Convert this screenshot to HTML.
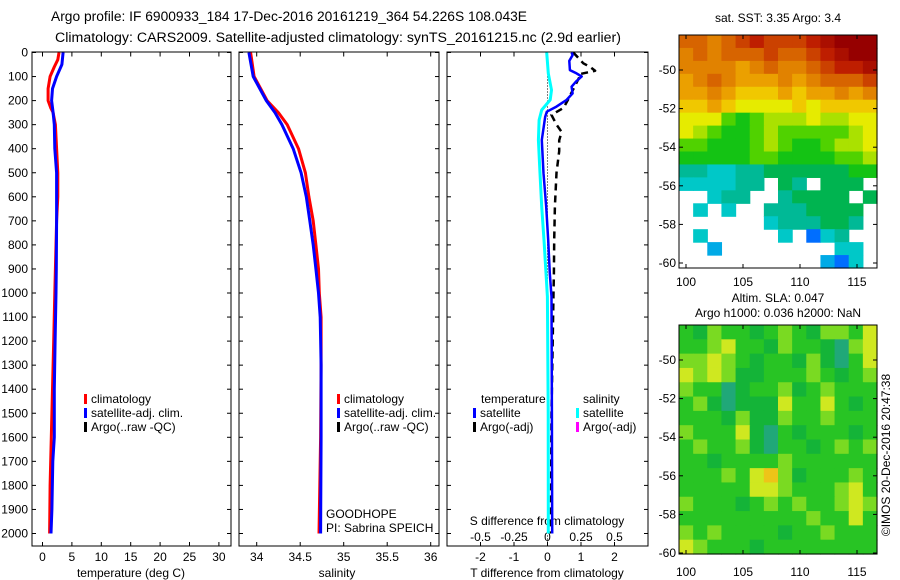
<!DOCTYPE html>
<html><head><meta charset="utf-8">
<style>
html,body{margin:0;padding:0;background:#fff;}
svg{display:block;font-family:"Liberation Sans",sans-serif;}
text{fill:#000;}
</style></head>
<body>
<svg id="fig" width="900" height="580" viewBox="0 0 900 580" xmlns="http://www.w3.org/2000/svg">
<rect width="900" height="580" fill="#fff"/>
<text x="51" y="21" font-size="13.5" textLength="476" lengthAdjust="spacingAndGlyphs">Argo profile: IF 6900933_184 17-Dec-2016 20161219_364 54.226S 108.043E</text>
<text x="55" y="42" font-size="13.5" textLength="566" lengthAdjust="spacingAndGlyphs">Climatology: CARS2009. Satellite-adjusted climatology: synTS_20161215.nc (2.9d earlier)</text>
<g id="g"></g>
</svg>
<script>
// ---- data ----
const depthTicks=[0,100,200,300,400,500,600,700,800,900,1000,1100,1200,1300,1400,1500,1600,1700,1800,1900,2000];
const tempTicks=[0,5,10,15,20,25,30];
const salTicks=[34,34.5,35,35.5,36];
const salTickLabels=["34","34.5","35","35.5","36"];
const tdTicks=[-2,-1,0,1,2];
const sdTicks=[-0.5,-0.25,0,0.25,0.5];
const sdTickLabels=["-0.5","-0.25","0","0.25","0.5"];

const tClimDepth=[0,30,60,100,150,200,230,250,300,400,500,600,700,800,1000,1200,1400,1600,1800,2000];
const tClimVal=[2.8,2.6,2.0,1.3,0.95,0.95,1.4,1.8,2.2,2.4,2.6,2.6,2.4,2.3,2.1,1.9,1.7,1.5,1.3,1.2];
const tSatDepth=[0,50,100,150,200,250,300,400,500,700,900,1000,1200,1400,1600,1700,1900,2000];
const tSatVal=[3.5,3.3,2.4,1.7,1.55,1.8,2.0,2.1,2.4,2.4,2.35,2.3,2.15,2.0,2.0,1.75,1.6,1.45];

const sDepth=[0,100,200,250,300,400,500,600,700,800,900,1000,1100,1300,1600,2000];
const sClimVal=[33.93,33.97,34.12,34.25,34.35,34.48,34.56,34.60,34.65,34.68,34.71,34.72,34.74,34.74,34.735,34.716];
const sSatVal=[33.91,33.96,34.11,34.21,34.29,34.42,34.51,34.57,34.61,34.65,34.68,34.71,34.73,34.74,34.74,34.735];

const dTDepth=[0,11,35,73,87,100,121,142,170,197,225,246,267,364,502,641,780,918,1015,1500,2000];
const dTVal=[0.72,0.75,0.65,0.67,0.87,1.02,0.85,0.72,0.75,0.57,0.27,-0.02,-0.07,-0.17,-0.12,-0.04,0.02,0.07,0.12,0.13,0.14];
const dSDepth=[0,87,156,197,239,281,364,502,641,780,918,1015,1500,2000];
const dSVal=[-0.006,0.006,0.03,0.02,-0.043,-0.063,-0.068,-0.056,-0.043,-0.026,-0.011,-0.001,0.005,0.006];
const argoDDepth=[0,45,60,76,90,100,197,230,260,300,330,365,410,500,640,780,920,1000,1500,2000];
const argoDVal=[0.77,1.07,1.27,1.42,0.96,0.96,0.61,0.48,0.12,0.27,0.42,0.35,0.35,0.27,0.22,0.2,0.19,0.18,0.12,0.1];

const mapLonTicks=[100,105,110,115];
const mapLatTicks=[-50,-52,-54,-56,-58,-60];
// SST grid, colour index 0..10, -1 = no data
const sstGrid=[
[8,8,7.5,8,8.5,9,8.5,8.5,8.5,9,9.5,10,10,10],
[7.5,8,7.5,8,8,8,8.5,8,8,8.5,9,9.5,10,10],
[7.5,7.5,7.5,7.5,7,7.5,8,7.5,7.5,8,8.5,9,9,9.5],
[7,7.5,8,7.5,7,7,7,7.5,7,7.5,8,8,8,8.5],
[7,7,7.5,7,6.5,6.5,6.5,7,6.5,7,7,7.5,7,7.5],
[6.5,6.5,7,6.5,6,6,6,6,6.5,6,6.5,6.5,6.5,6.5],
[6,6,6,5,4.5,5,5.5,5.5,5.5,6,5.5,5.5,6,6],
[6,5.5,5,4.5,4.5,5,5.5,5,5,5,5,5,5.5,6],
[5,5,4.5,4.5,4.5,5,5.5,5,4.5,4.5,5,5.5,5.5,6],
[4.5,4.5,4.5,4.5,4.5,5,5,4.5,4.5,4.5,4.5,5,5,5.5],
[3.5,3.5,3,3,3.5,3.5,4,4,4,4,4,4,4.5,4.5],
[3,3,3,3,3.5,3.5,-1,4,3.5,-1,4,4,4,-1],
[-1,-1,3,3.5,3.5,-1,-1,3.5,4,4,4,4,-1,4],
[-1,3,-1,3,-1,-1,3.5,3.5,3.5,4,4,4,4,-1],
[-1,-1,-1,-1,-1,-1,3,3.5,3.5,3.5,4,4,3.5,-1],
[-1,3,-1,-1,-1,-1,-1,3,-1,2,3,3.5,-1,-1],
[-1,-1,2.5,-1,-1,-1,-1,-1,-1,-1,-1,3,3,-1],
[-1,-1,-1,-1,-1,-1,-1,-1,-1,-1,2.5,2,3,-1]
];
// SLA grid, class 0..5
const slaGrid=[
[2,1,3,2,2,1,2,3,2,1,3,3,2,4],
[2,2,3,4,2,2,1,3,2,2,1,0,3,4],
[3,3,4,3,2,1,2,2,1,3,1,0,2,4],
[4,3,4,3,1,1,2,2,2,3,2,1,2,3],
[3,2,2,0,1,2,2,3,1,2,3,2,2,2],
[2,3,1,0,1,1,1,4,2,2,4,2,1,2],
[2,2,2,1,3,1,1,3,2,2,3,2,2,2],
[3,2,2,2,4,1,0,2,1,2,2,2,1,2],
[2,3,2,2,3,1,0,2,2,1,2,3,2,3],
[2,2,1,2,2,2,2,3,2,2,2,2,2,2],
[2,2,2,3,2,4,5,3,1,2,2,2,3,2],
[2,2,2,2,2,4,4,3,2,2,2,3,4,2],
[3,2,2,2,1,2,3,2,3,2,2,3,4,3],
[2,2,2,2,2,2,2,2,2,3,2,2,4,2],
[3,2,3,2,2,2,2,1,2,2,3,2,2,2],
[4,3,2,2,2,1,2,2,2,2,2,2,2,2]
];
const slaColors=["#20a878","#14b438","#28c424","#7ada22","#cfe820","#eec418"];

// ---- helpers ----
const NS="http://www.w3.org/2000/svg";
const G=document.getElementById('g');
function el(tag,attrs,parent){const e=document.createElementNS(NS,tag);for(const k in attrs)e.setAttribute(k,attrs[k]);(parent||G).appendChild(e);return e;}
function txt(x,y,s,anchor,size,name){const t=el('text',{x:x,y:y,'font-size':size||12,'text-anchor':anchor||'start'});t.textContent=s;


return t;}

const TOP=52.5, BOT=546;
const yD=d=>TOP+d*0.2405;
const xT=v=>42.5+v*5.88;
const xS=v=>256.7+(v-34)*87;
const xTD=v=>547.5+v*33.5;
const xSD=v=>547.5+v*134;

function frame(x0,x1,name){
  const r=el('rect',{x:x0,y:TOP-0.5,width:x1-x0,height:BOT-TOP+0.5,fill:'none',stroke:'#000','stroke-width':1});
  
  
}
function yTicks(x0,x1,labels){
  depthTicks.forEach(d=>{const y=yD(d);
    el('line',{x1:x0,y1:y,x2:x0+4,y2:y,stroke:'#000'});
    el('line',{x1:x1-4,y1:y,x2:x1,y2:y,stroke:'#000'});
    if(labels) txt(x0-4,y+4,String(d),'end',12,'depth-tick-label');
  });
}
function xTicks(vals,fx,x0,x1,labels,ly){
  vals.forEach((v,i)=>{const x=fx(v);
    el('line',{x1:x,y1:BOT,x2:x,y2:BOT-4,stroke:'#000'});
    el('line',{x1:x,y1:TOP,x2:x,y2:TOP+4,stroke:'#000'});
    if(labels) txt(x,ly,labels[i],'middle',12,'x-tick-label');
  });
}
function line(ds,vs,fx,color,w,name,dash){
  const pts=ds.map((d,i)=>fx(vs[i]).toFixed(1)+','+yD(d).toFixed(1)).join(' ');
  const a={points:pts,fill:'none',stroke:color,'stroke-width':w,'stroke-linejoin':'round'};
  if(dash)a['stroke-dasharray']=dash;
  const p=el('polyline',a);
  
  
}
function legend(x,y,color,label,name){
  const r=el('rect',{x:x,y:y-9,width:3,height:10,fill:color});
  
  
  txt(x+7,y,label,'start',12,name);
}

// ---- panel 1: temperature ----
frame(32,231,'temperature-axes');
yTicks(32,231,true);
xTicks(tempTicks,xT,32,231,tempTicks.map(String),561);
txt(131,577,'temperature (deg C)','middle',12,'temperature-axis-title');
line(tClimDepth,tClimVal,xT,'#ff0000',3,'temperature-climatology-line');
line(tSatDepth,tSatVal,xT,'#0000ff',3,'temperature-satellite-line');
legend(84,403,'#ff0000','climatology','legend-climatology');
legend(84,417,'#0000ff','satellite-adj. clim.','legend-satellite-adj');
legend(84,431,'#000','Argo(..raw -QC)','legend-argo');

// ---- panel 2: salinity ----
frame(239,439,'salinity-axes');
yTicks(239,439,false);
xTicks(salTicks,xS,239,439,salTickLabels,561);
txt(337,577,'salinity','middle',12,'salinity-axis-title');
line(sDepth,sClimVal,xS,'#ff0000',3,'salinity-climatology-line');
line(sDepth,sSatVal,xS,'#0000ff',3,'salinity-satellite-line');
legend(337,403,'#ff0000','climatology','legend-climatology-2');
legend(337,417,'#0000ff','satellite-adj. clim.','legend-satellite-adj-2');
legend(337,431,'#000','Argo(..raw -QC)','legend-argo-2');
txt(326,518,'GOODHOPE','start',12,'project-label');
txt(326,532,'PI: Sabrina SPEICH','start',12,'pi-label');

// ---- panel 3: differences ----
frame(447,648,'difference-axes');
yTicks(447,648,false);
xTicks(tdTicks,xTD,447,648,tdTicks.map(String),561);
sdTicks.forEach((v,i)=>txt(xSD(v),541,sdTickLabels[i],'middle',12,'s-diff-tick-label'));
txt(547,525,'S difference from climatology','middle',12,'s-diff-axis-title');
txt(547,577,'T difference from climatology','middle',12,'t-diff-axis-title');
el('line',{x1:xTD(0),y1:TOP,x2:xTD(0),y2:BOT,stroke:'#000','stroke-width':1,'stroke-dasharray':'1,2'});
line(argoDDepth,argoDVal,xTD,'#000',2.5,'argo-t-difference-line','7,5');
line(dSDepth,dSVal,xSD,'#00ffff',3,'salinity-satellite-difference-line');
line(dTDepth,dTVal,xTD,'#0000ff',2.5,'temperature-satellite-difference-line');
txt(481,403,'temperature','start',12,'legend-temperature-heading');
txt(583,403,'salinity','start',12,'legend-salinity-heading');
legend(473,417,'#0000ff','satellite','legend-t-satellite');
legend(473,431,'#000','Argo(-adj)','legend-t-argo');
legend(576,417,'#00ffff','satellite','legend-s-satellite');
legend(576,431,'#ff00ff','Argo(-adj)','legend-s-argo');

// ---- maps ----
const cmStops=[[0,[0,0,130]],[1,[0,0,255]],[2,[0,110,255]],[2.5,[0,170,230]],[3,[0,200,200]],[3.5,[0,185,150]],[4,[0,180,80]],[4.5,[20,195,20]],[5,[80,210,0]],[5.5,[170,225,0]],[6,[230,235,0]],[6.5,[240,200,0]],[7,[235,160,0]],[7.5,[225,130,0]],[8,[215,100,0]],[9,[190,30,0]],[10,[150,0,0]]];
function cmap(v){for(let i=1;i<cmStops.length;i++){if(v<=cmStops[i][0]){const a=cmStops[i-1],b=cmStops[i],t=(v-a[0])/(b[0]-a[0]);
  return 'rgb('+a[1].map((c,k)=>Math.round(c+(b[1][k]-c)*t)).join(',')+')';}}return 'rgb(150,0,0)';}
function mapAxes(x0,y0,w,h,lat0,latPx,name,labY){
  const lon=v=>686+(v-100)*11.4;
  const lat=v=>lat0+(-50-v)*latPx;
  const r=el('rect',{x:x0,y:y0,width:w,height:h,fill:'none',stroke:'#000'});
  
  
  mapLonTicks.forEach(v=>{const x=lon(v);
    el('line',{x1:x,y1:y0+h,x2:x,y2:y0+h-4,stroke:'#000'});
    el('line',{x1:x,y1:y0,x2:x,y2:y0+4,stroke:'#000'});
    txt(x,labY,String(v),'middle',12,'map-lon-label');});
  mapLatTicks.forEach(v=>{const y=lat(v);
    el('line',{x1:x0,y1:y,x2:x0+4,y2:y,stroke:'#000'});
    el('line',{x1:x0+w-4,y1:y,x2:x0+w,y2:y,stroke:'#000'});
    txt(x0-3,y+4,String(v),'end',12,'map-lat-label');});
}
// SST map
(function(){
  const x0=679,y0=35,w=198,h=233,rows=sstGrid.length,cols=sstGrid[0].length;
  const cw=w/cols,ch=h/rows;
  sstGrid.forEach((row,r)=>row.forEach((v,c)=>{ if(v<0)return;
    const e=el('rect',{x:(x0+c*cw).toFixed(2),y:(y0+r*ch).toFixed(2),width:(cw+0.6).toFixed(2),height:(ch+0.6).toFixed(2),fill:cmap(v)});
    
    
  }));
  mapAxes(x0,y0,w,h,70,19.3,'sst-map',286);
  txt(778,22,'sat. SST: 3.35 Argo: 3.4','middle',12,'sst-map-title');
})();
// SLA map
(function(){
  const x0=679,y0=325,w=198,h=229,rows=slaGrid.length,cols=slaGrid[0].length;
  const cw=w/cols,ch=h/rows;
  slaGrid.forEach((row,r)=>row.forEach((v,c)=>{
    const e=el('rect',{x:(x0+c*cw).toFixed(2),y:(y0+r*ch).toFixed(2),width:(cw+0.6).toFixed(2),height:(ch+0.6).toFixed(2),fill:slaColors[v]});
    
    
  }));
  mapAxes(x0,y0,w,h,360,19.3,'sla-map',576);
  txt(778,302,'Altim. SLA: 0.047','middle',12,'sla-map-title');
  txt(778,317,'Argo h1000: 0.036 h2000: NaN','middle',12,'sla-map-subtitle');
})();
const cr=txt(0,0,'©IMOS 20-Dec-2016 20:47:38','middle',12,'copyright-label');
cr.setAttribute('transform','translate(890,455) rotate(-90)');
</script>
</body></html>
